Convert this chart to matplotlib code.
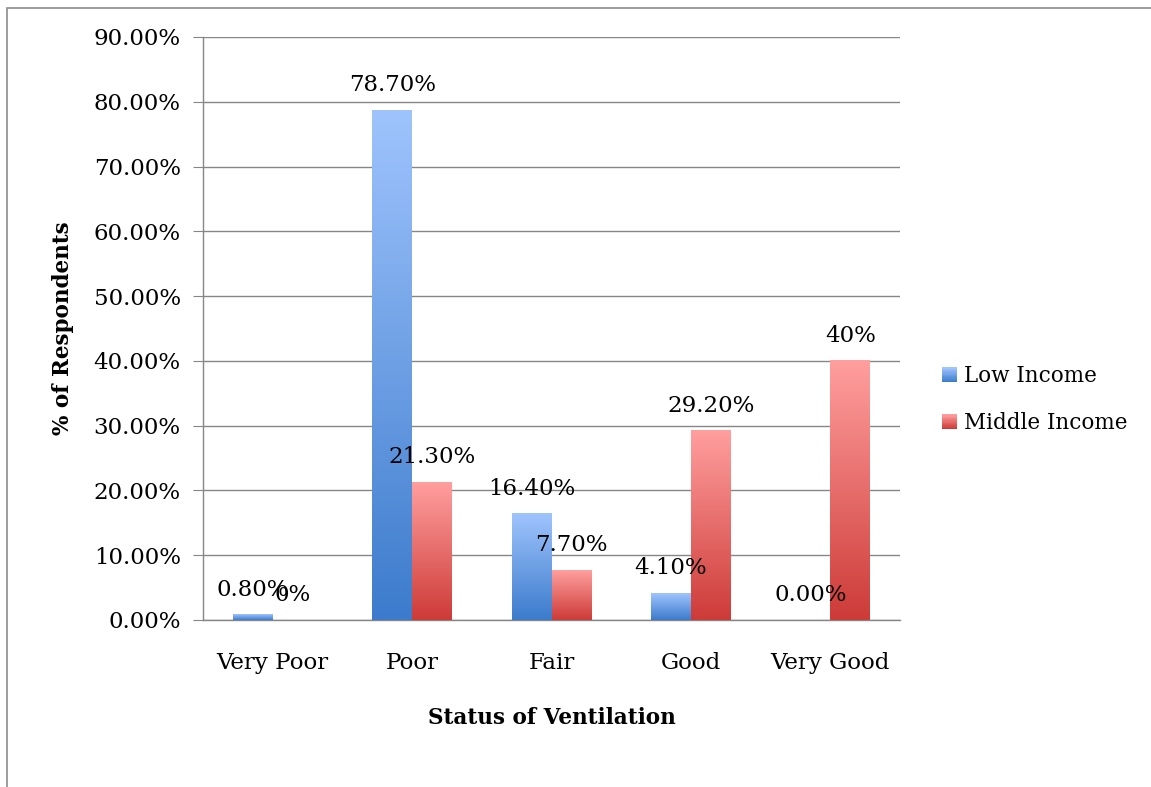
import matplotlib.pyplot as plt
import numpy as np
from matplotlib.colors import LinearSegmentedColormap
from matplotlib.patches import Rectangle
from matplotlib.legend_handler import HandlerPatch

categories = ["Very Poor", "Poor", "Fair", "Good", "Very Good"]
low_income = [0.80, 78.70, 16.40, 4.10, 0.00]
middle_income = [0.00, 21.30, 7.70, 29.20, 40.00]
low_labels = ["0.80%", "78.70%", "16.40%", "4.10%", "0.00%"]
middle_labels = ["0%", "21.30%", "7.70%", "29.20%", "40%"]
yticks = [0, 10, 20, 30, 40, 50, 60, 70, 80, 90]

FONT = "DejaVu Serif"
FS = 16.5
plt.rcParams['font.family'] = FONT

blue_cmap = LinearSegmentedColormap.from_list("blue", ["#3c7bcc", "#9fc4fd"])
red_cmap = LinearSegmentedColormap.from_list("red", ["#cd3b38", "#ff9f9e"])

fig = plt.figure(figsize=(11.51, 7.87), dpi=100)
ax = fig.add_axes([0.1764, 0.2122, 0.6056, 0.7408])

# outer chart frame
fig.patches.append(Rectangle((7 / 1151, -0.05), 1.1, (787 - 8) / 787 + 0.05,
                             transform=fig.transFigure, fill=False,
                             edgecolor="#8c8c8c", linewidth=1.2))

width = 0.2857
x = np.arange(len(categories))
grad = np.linspace(0, 1, 256).reshape(-1, 1)


def gradient_bar(xc, h, cmap):
    if h <= 0:
        return
    ax.imshow(grad, cmap=cmap, origin="lower", aspect="auto",
              extent=[xc - width / 2, xc + width / 2, 0, h], zorder=3)


for i in range(len(categories)):
    xl = x[i] - width / 2
    xm = x[i] + width / 2
    gradient_bar(xl, low_income[i], blue_cmap)
    gradient_bar(xm, middle_income[i], red_cmap)
    ax.annotate(low_labels[i], (xl, low_income[i]), xytext=(0, 18),
                textcoords="offset points", ha="center", va="center",
                fontsize=FS, zorder=5)
    ax.annotate(middle_labels[i], (xm, middle_income[i]), xytext=(0, 18),
                textcoords="offset points", ha="center", va="center",
                fontsize=FS, zorder=5)

ax.set_xlim(-0.5, 4.5)
ax.set_ylim(0, 90)
ax.set_yticks(yticks)
ax.set_yticklabels(["%.2f%%" % v for v in yticks])
ax.set_xticks(x)
ax.set_xticklabels(categories)
ax.tick_params(axis="y", length=7, color="#868686", pad=9, labelsize=FS)
ax.tick_params(axis="x", length=0, pad=23, labelsize=FS)
ax.yaxis.grid(True, color="#868686", linewidth=1)
ax.set_axisbelow(True)
for s in ["top", "right"]:
    ax.spines[s].set_visible(False)
for s in ["left", "bottom"]:
    ax.spines[s].set_color("#868686")
    ax.spines[s].set_linewidth(1)

ax.set_xlabel("Status of Ventilation", fontsize=15.5, fontweight="bold", labelpad=24)
ax.set_ylabel("% of Respondents", fontsize=15.5, fontweight="bold", labelpad=14)


class GradientHandler(HandlerPatch):
    def __init__(self, cmap):
        super().__init__()
        self.cmap = cmap

    def create_artists(self, legend, orig_handle, xdescent, ydescent,
                       width, height, fontsize, trans):
        side = height * 1.0
        x0 = -xdescent + width - side
        y0 = -ydescent + (height - side) / 2
        n = 12
        artists = []
        for k in range(n):
            r = Rectangle((x0, y0 + side * k / n), side, side / n + 0.3,
                          facecolor=self.cmap(k / (n - 1)), edgecolor="none",
                          transform=trans)
            artists.append(r)
        return artists


h_low = Rectangle((0, 0), 1, 1)
h_mid = Rectangle((0, 0), 1, 1)
fig.legend([h_low, h_mid], ["Low Income", "Middle Income"],
           handler_map={h_low: GradientHandler(blue_cmap),
                        h_mid: GradientHandler(red_cmap)},
           loc="center left", bbox_to_anchor=(0.8, 0.492), frameon=False,
           fontsize=15.5, labelspacing=1.15, handlelength=0.8, handletextpad=0.3)

fig.savefig("out.png", dpi=100)
